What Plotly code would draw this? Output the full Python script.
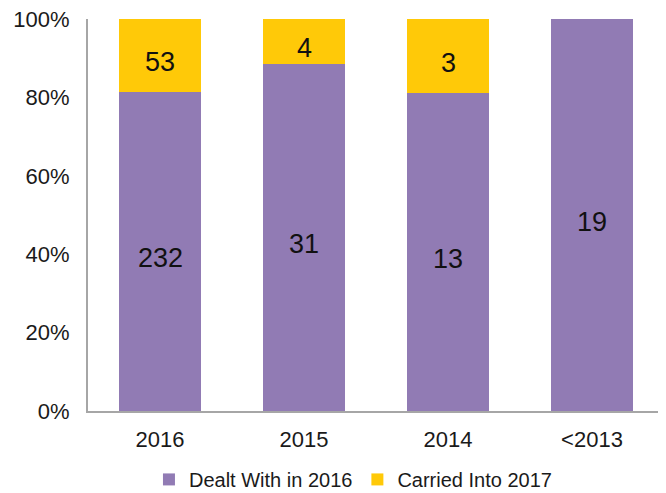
import plotly.graph_objects as go

categories = ["2016", "2015", "2014", "<2013"]
dealt_with = [232, 31, 13, 19]
carried_into = [53, 4, 3, 0]
series_names = ["Dealt With in 2016", "Carried Into 2017"]
y_ticks = [0, 20, 40, 60, 80, 100]
y_tick_labels = ["0%", "20%", "40%", "60%", "80%", "100%"]

purple = "#917BB4"
yellow = "#FFC908"
font_family = "Liberation Sans, Arial, Helvetica, sans-serif"

fig = go.Figure()
fig.add_trace(go.Bar(
    x=categories, y=dealt_with, name=series_names[0],
    marker=dict(color=purple, line=dict(width=0)),
    hoverinfo="skip",
))
fig.add_trace(go.Bar(
    x=categories, y=carried_into, name=series_names[1],
    marker=dict(color=yellow, line=dict(width=0)),
    hoverinfo="skip",
))

# value labels at the middle of each stacked segment (in percent units);
# x is the category index on the category axis
annotations = []
for i, (d, c) in enumerate(zip(dealt_with, carried_into)):
    total = d + c
    d_pct = 100.0 * d / total
    c_pct = 100.0 * c / total
    for val, mid in ((d, d_pct / 2), (c, d_pct + c_pct / 2)):
        if val:
            annotations.append(dict(
                x=i, y=mid, xref="x", yref="y", text=str(val),
                showarrow=False, yshift=-7,
                font=dict(size=27, color="#111111", family=font_family),
            ))

fig.update_layout(
    barmode="stack",
    barnorm="percent",
    bargap=0.43,
    width=658, height=485,
    margin=dict(l=80, r=2, t=11, b=82, autoexpand=False),
    paper_bgcolor="white", plot_bgcolor="white",
    font=dict(family=font_family, size=22, color="#1a1a1a"),
    showlegend=True,
    annotations=annotations,
    legend=dict(
        orientation="h", x=0.46, xanchor="center",
        yref="container", y=0.028, yanchor="middle",
        traceorder="normal",
        font=dict(size=20, color="#1a1a1a"),
        bgcolor="rgba(0,0,0,0)",
    ),
)
fig.update_yaxes(
    range=[0, 100], tickmode="array", tickvals=y_ticks, ticktext=y_tick_labels,
    showgrid=False, zeroline=False, automargin=False,
    showline=True, linecolor="#A6A6A6", linewidth=2,
    ticks="", ticklabelstandoff=12, ticklabeloverflow="allow",
    tickfont=dict(size=22),
)
fig.update_xaxes(
    type="category", categoryorder="array", categoryarray=categories,
    range=[-0.5, len(categories) - 0.5],
    showgrid=False, zeroline=False, automargin=False,
    showline=True, linecolor="#A6A6A6", linewidth=2,
    ticks="", ticklabelstandoff=8,
    tickfont=dict(size=22),
)

fig.write_html("out.html")
